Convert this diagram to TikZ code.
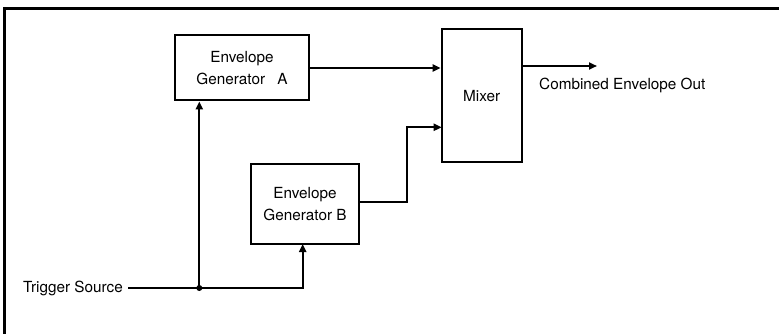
\documentclass[tikz,border=0pt]{standalone}
\usepackage{fontspec}
\setmainfont{TeX Gyre Heros}
\usetikzlibrary{arrows.meta,calc}
\begin{document}
\begin{tikzpicture}[x=1pt,y=-1pt,
  blk/.style={draw,line width=2pt,minimum width=#1,inner sep=0pt,align=center,
    font=\fontsize{15.3}{22.5}\selectfont},
  lbl/.style={inner sep=0pt,font=\fontsize{15.3}{17}\selectfont},
  wire/.style={line width=2pt},
  arr/.style={wire,-{Triangle[length=8pt,width=7pt]}}]
\useasboundingbox (0,0) rectangle (779,334);
% frame
\draw[line width=2.2pt] (4.5,334) -- (4.5,8.5) -- (779,8.5);
% blocks
\node[blk=134pt,minimum height=65pt] (A) at (242,68) {Envelope\\Generator\hspace{0.8em}A};
\node[blk=80pt,minimum height=133pt] (M) at (481.7,95.8) {Mixer};
\node[blk=108pt,minimum height=80pt] (B) at (305,204) {Envelope\\Generator B};
% labels
\node[lbl,anchor=east] (T) at (123,288) {Trigger Source};
\node[lbl,anchor=west] (O) at (539,85) {Combined Envelope Out};
% coordinates
\coordinate (J) at (199.3,288);
\coordinate (Mb) at (441.7,127.3);
\coordinate (Bx) at (406.7,202);
\coordinate (Bin) at (302.7,244);
\coordinate (Mo) at (521.7,66);
\coordinate (Out) at (597,66);
% connectors
\draw[arr] (A.east) -- (A.east -| M.west);
\draw[arr] (B.east |- Bx) -- (Bx) |- (Mb);
\draw[arr] (Mo) -- (Out);
\draw[wire] ([xshift=5pt]T.east) -- (J);
\draw[arr] (J) -- (J |- A.south);
\draw[arr] (J) -| (Bin);
\fill (J) circle (3pt);
\end{tikzpicture}
\end{document}
